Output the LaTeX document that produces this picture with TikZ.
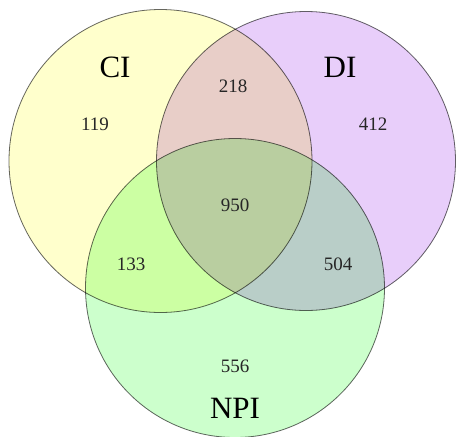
\documentclass[tikz,border=0pt]{standalone}
\usepackage{fontspec}
\setmainfont{Liberation Serif}
\usepackage{xcolor}
\usepackage{tikz}
\definecolor{ciyellow}{HTML}{FFFFCC}
\definecolor{dipurple}{HTML}{E8CEFA}
\definecolor{npigreen}{HTML}{CCFFCC}
\tikzset{
	setring/.style={circle, inner sep=0pt, draw=black!60, line width=0.8pt},
	setname/.style={font=\fontsize{31}{31}\selectfont},
	count/.style={font=\fontsize{19}{19}\selectfont, text=black!85}
}

\begin{document}
\begin{tikzpicture}[x=1pt, y=-1pt]
			\useasboundingbox[fill=white] (0,0) rectangle (456,437);
			\begin{scope}[blend group=multiply]
				\node[setring, fill=ciyellow, minimum size=303pt] (ci) at (160.5,161) {};
				\node[setring, fill=dipurple, minimum size=299pt] (di) at (306,161) {};
				\node[setring, fill=npigreen, minimum size=299pt] (npi) at (235,288) {};
			\end{scope}
			\node[setname] (cilabel) at (115,67) {CI};
			\node[setname] (dilabel) at (340,67) {DI};
			\node[setname] (npilabel) at (235,408) {NPI};
			\node[count] (onlyci) at (95,124) {119};
			\node[count] (onlydi) at (373,124) {412};
			\node[count] (onlynpi) at (235,366) {556};
			\node[count] (cidi) at (233,86) {218};
			\node[count] (cinpi) at (131,264) {133};
			\node[count] (dinpi) at (338,264) {504};
			\node[count] (all) at (235,205) {950};
		\end{tikzpicture}
\end{document}
